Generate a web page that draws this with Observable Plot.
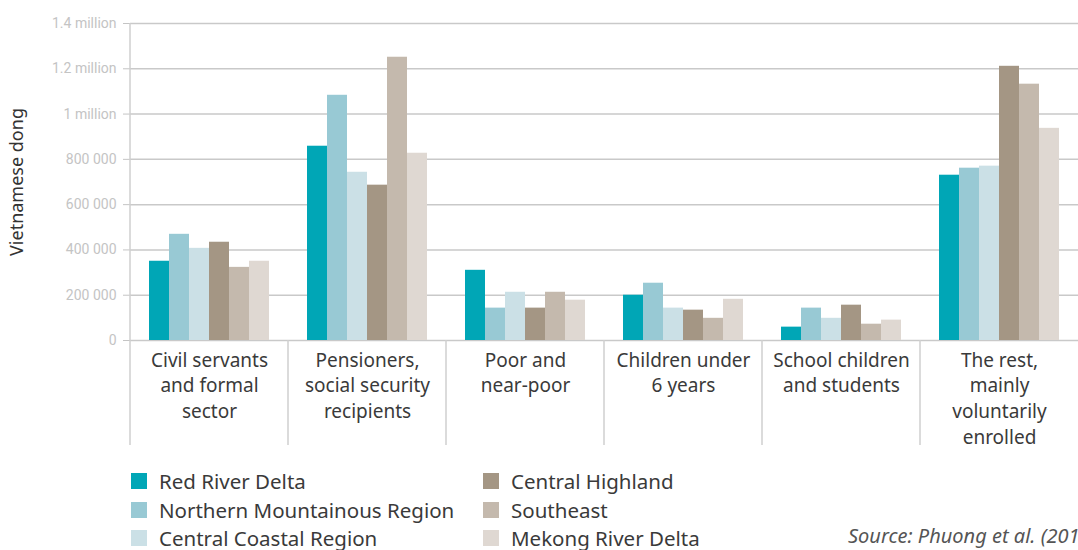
<!DOCTYPE html>
<html>
<head>
<meta charset="utf-8">
<script src="https://cdn.jsdelivr.net/npm/d3@7"></script>
<script src="https://cdn.jsdelivr.net/npm/@observablehq/plot@0.6"></script>
<style>
  html, body { margin: 0; padding: 0; background: #fff; overflow: hidden; }
  body { width: 1078px; height: 550px; position: relative; font-family: "Noto Sans", sans-serif; }
  #chart svg { display: block; }
  #legend { position: absolute; left: 131px; top: 467px; display: grid; grid-template-columns: 352px 300px; }
  .item { display: flex; align-items: center; font-size: 20.5px; color: #3a3a3a; white-space: nowrap; }
  .sw { width: 16px; height: 16px; margin-right: 12px; flex: none; }
  #source { position: absolute; left: 848px; top: 522px; font-size: 20px; font-style: italic; color: #555; white-space: nowrap; }
</style>
</head>
<body>
<div id="chart"></div>
<div id="legend"></div>
<div id="source">Source: Phuong et al. (2015)</div>
<script>
const categories = [
  "Civil servants\nand formal\nsector",
  "Pensioners,\nsocial security\nrecipients",
  "Poor and\nnear-poor",
  "Children under\n6 years",
  "School children\nand students",
  "The rest,\nmainly\nvoluntarily\nenrolled"
];
const regions = [
  "Red River Delta",
  "Northern Mountainous Region",
  "Central Coastal Region",
  "Central Highland",
  "Southeast",
  "Mekong River Delta"
];
const regionColors = ["#00a6b6", "#98c9d4", "#cbe0e6", "#a49684", "#c4b9ad", "#dfd8d2"];

const redRiverDelta       = [350000,  858000, 310000, 200000,  59000,  730000];
const northernMountainous = [469000, 1083000, 143000, 253000, 143000,  761000];
const centralCoastal      = [407000,  743000, 213000, 143000,  98000,  770000];
const centralHighland     = [434000,  686000, 143000, 134000, 156000, 1211000];
const southeast           = [323000, 1251000, 213000,  98000,  72000, 1132000];
const mekongRiverDelta    = [350000,  827000, 178000, 182000,  90000,  937000];

const yTicks = [0, 200000, 400000, 600000, 800000, 1000000, 1200000, 1400000];
const yTickLabels = ["0", "200 000", "400 000", "600 000", "800 000", "1 million", "1.2 million", "1.4 million"];

const series = [redRiverDelta, northernMountainous, centralCoastal, centralHighland, southeast, mekongRiverDelta];
const data = [];
categories.forEach((c, i) => regions.forEach((r, j) => data.push({category: c, region: r, value: series[j][i]})));

const chart = Plot.plot({
  width: 1078,
  height: 455,
  marginLeft: 129,
  marginRight: 0,
  marginTop: 23,
  marginBottom: 115,
  style: {fontFamily: "Noto Sans, sans-serif", background: "#fff"},
  fx: {domain: categories, padding: 0},
  x: {domain: regions, paddingInner: 0, paddingOuter: 0.8, axis: null},
  y: {domain: [0, 1400000]},
  color: {domain: regions, range: regionColors},
  marks: [
    Plot.gridY({ticks: yTicks, stroke: "#c9c9c9", strokeOpacity: 1, strokeWidth: 1.5}),
    Plot.barY(data, {fx: "category", x: "region", y: "value", fill: "region", inset: 0}),
    Plot.axisY({
      ticks: yTicks,
      tickFormat: (d) => yTickLabels[yTicks.indexOf(d)],
      tickSize: 7,
      tickPadding: 7,
      color: "#c4c4c4",
      fontSize: 14,
      fontFamily: "Roboto, sans-serif",
      label: "Vietnamese dong",
      labelAnchor: "center",
      labelArrow: "none",
      labelOffset: 120
    }),
    Plot.axisFx({
      anchor: "bottom",
      tickSize: 0,
      tickPadding: 8,
      fontSize: 19,
      lineHeight: 1.35,
      fill: "#3a3a3a",
      label: null
    })
  ]
});
document.getElementById("chart").appendChild(chart);

// y-axis title colour & size
d3.select(chart).selectAll('g[aria-label="y-axis label"] text')
  .attr("fill", "#333").style("font-size", "18px").style("font-family", "Noto Sans, sans-serif");

// category separators, positioned through the fx / y scales
const fxScale = chart.scale("fx");
const yScale = chart.scale("y");
const y0 = yScale.apply(0);
const yTop = yScale.apply(1400000);
const sep = d3.select(chart).append("g").attr("stroke", "#cfcfcf").attr("stroke-width", 1.5);
categories.forEach((c, i) => {
  const x = fxScale.apply(c);
  sep.append("line").attr("x1", x).attr("x2", x).attr("y1", i === 0 ? yTop : y0).attr("y2", 445);
});

// legend (column-major: 3 rows)
const legend = d3.select("#legend").style("grid-auto-flow", "column").style("grid-template-rows", "repeat(3, 28.5px)");
regions.forEach((r, i) => {
  const it = legend.append("div").attr("class", "item");
  it.append("div").attr("class", "sw").style("background", regionColors[i]);
  it.append("span").text(r);
});
</script>
</body>
</html>
